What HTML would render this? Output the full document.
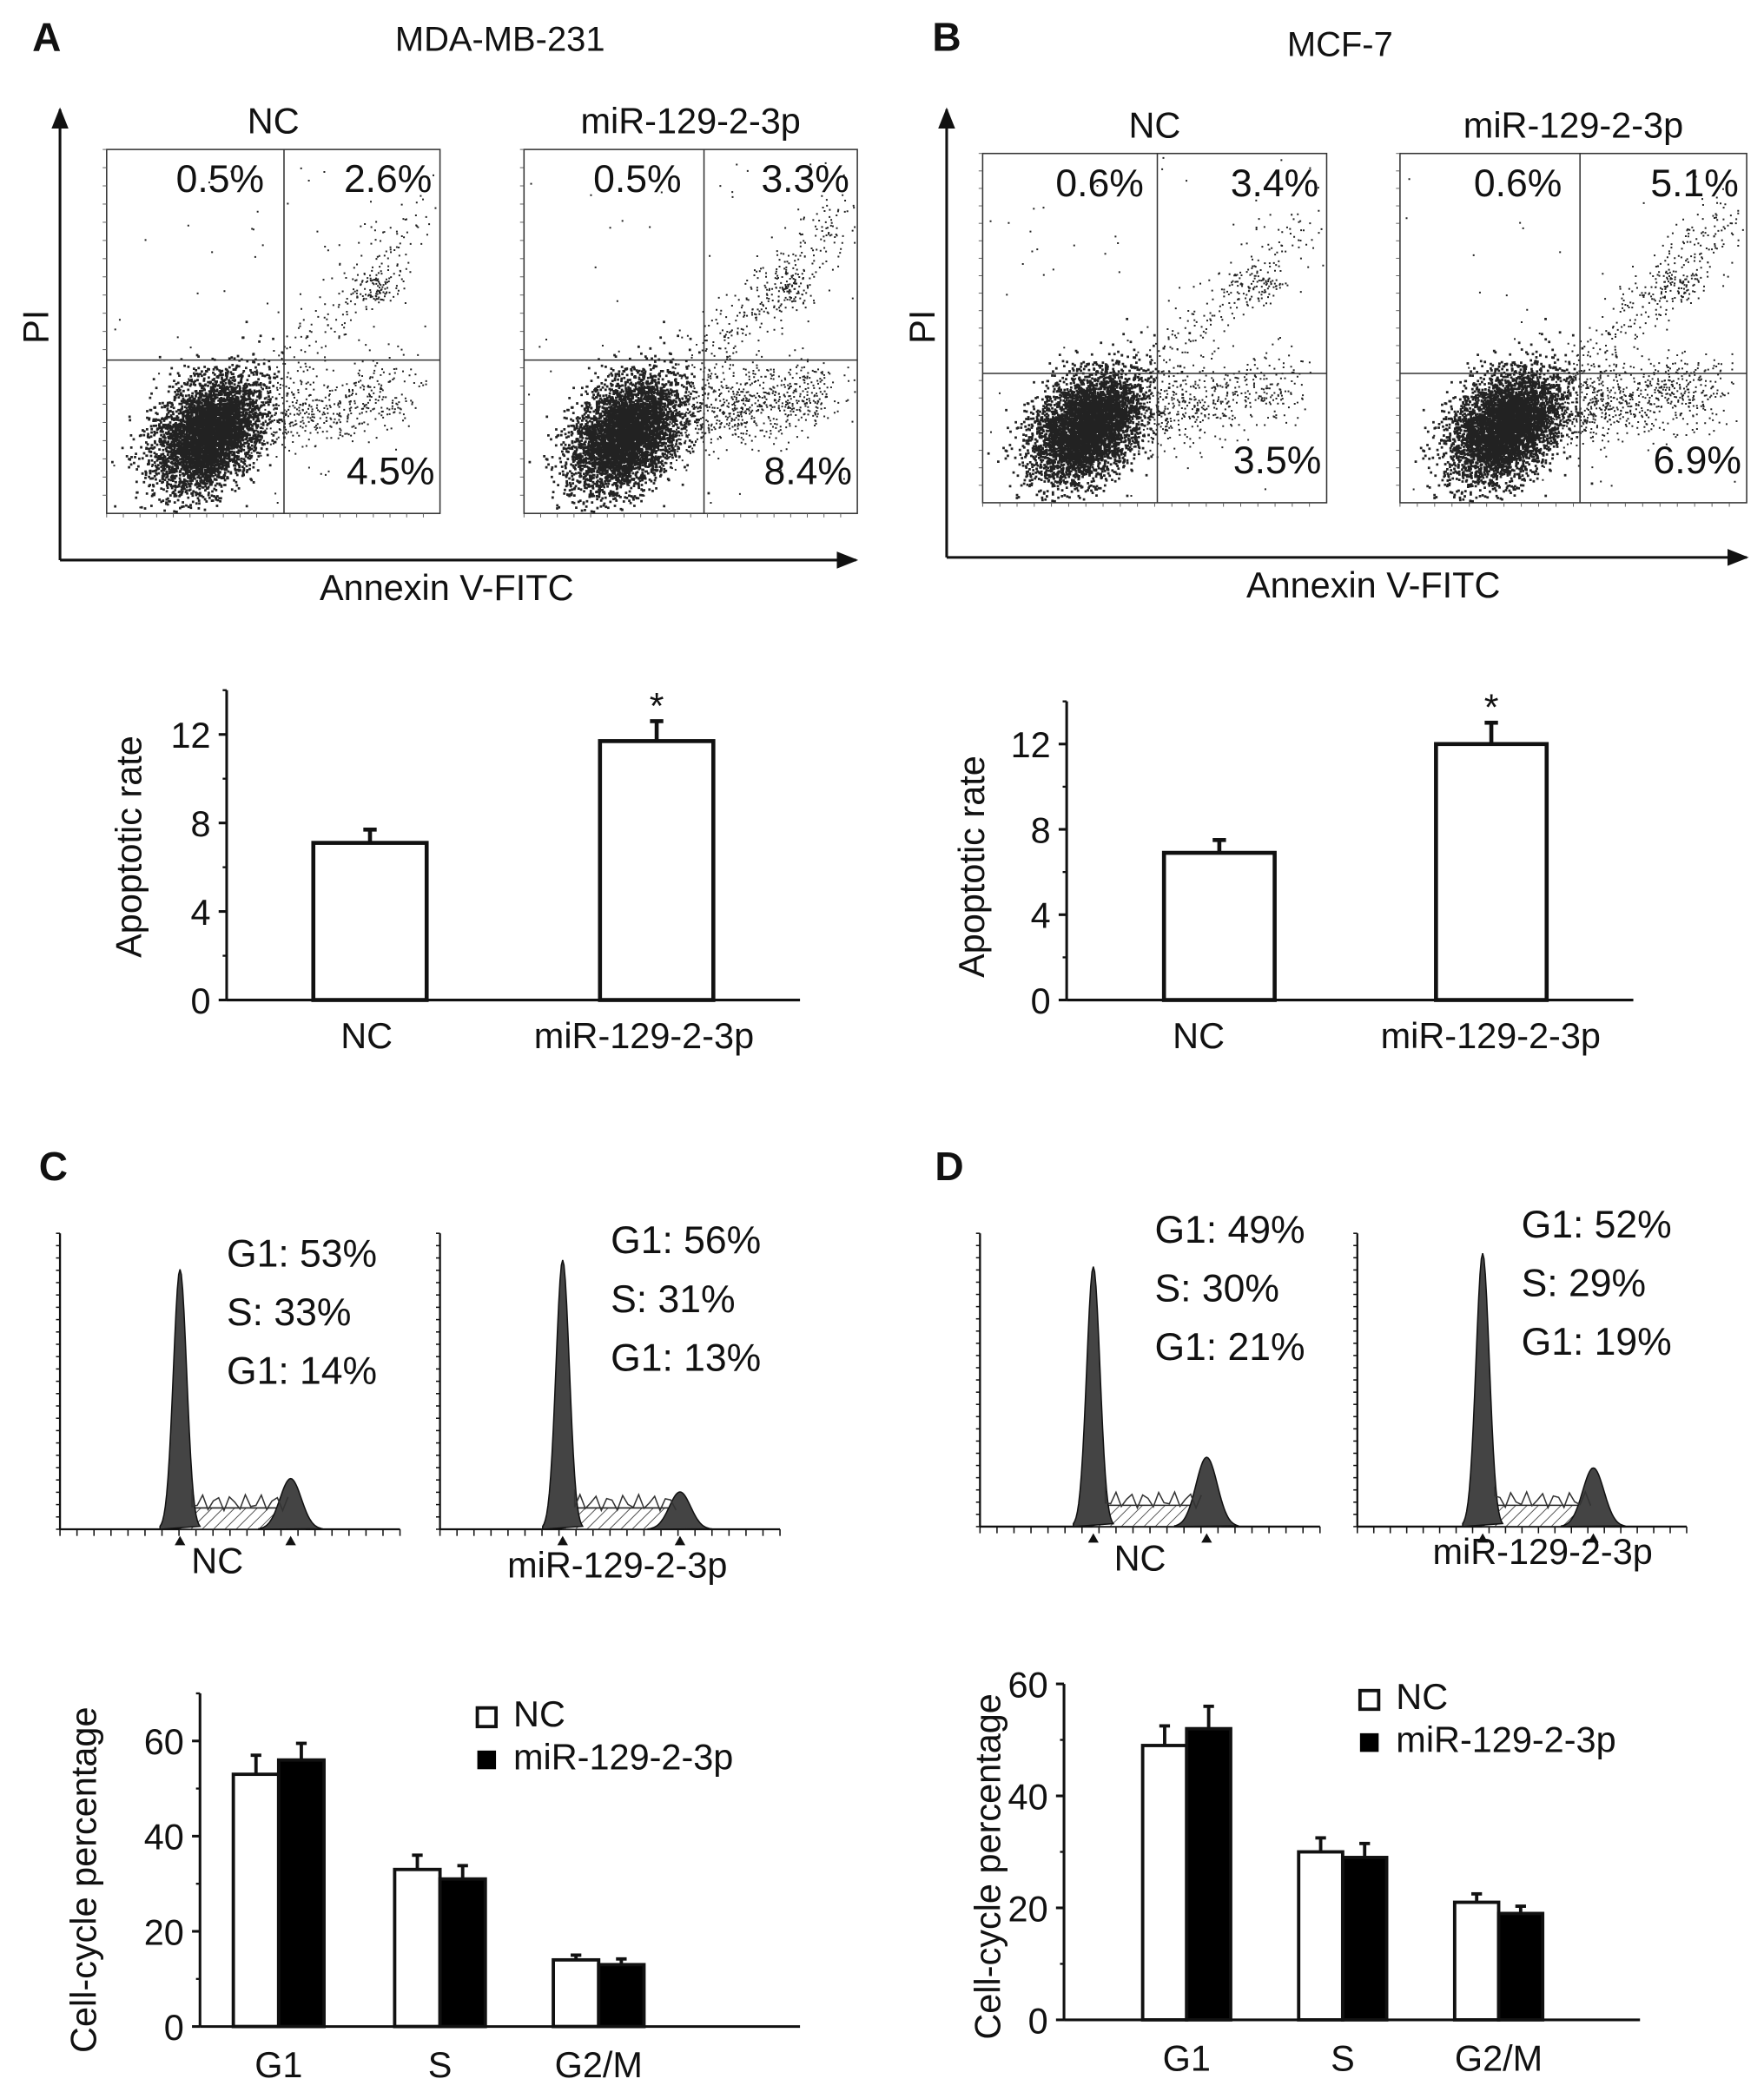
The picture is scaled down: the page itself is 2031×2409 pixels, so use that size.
<!DOCTYPE html>
<html><head><meta charset="utf-8"><style>
html,body{margin:0;padding:0;background:#fff}
svg{display:block}
text{font-family:"Liberation Sans",Arial,sans-serif;fill:#111}
</style></head><body>
<svg id="fig" xmlns="http://www.w3.org/2000/svg" width="2031" height="2409" viewBox="0 0 1323 1569">
<defs>
<marker id="arr" viewBox="0 0 10 10" refX="9" refY="5" markerWidth="8" markerHeight="8" orient="auto"><path d="M0,1 L10,5 L0,9 Z" fill="#111"/></marker>
<pattern id="hatch" width="6" height="6" patternUnits="userSpaceOnUse" patternTransform="rotate(45)"><rect width="6" height="6" fill="#fff"/><line x1="0" y1="0" x2="0" y2="6" stroke="#222" stroke-width="1"/></pattern>
</defs>
<g id="root"></g>
</svg>
<script>
// ---- data ----
const apopCategories = ["NC","miR-129-2-3p"];
const apopA = [7.1, 11.7];
const apopAErr = [0.6, 0.9];
const apopB = [6.9, 12.0];
const apopBErr = [0.6, 1.0];
const apopTicks = [0,4,8,12];
const phases = ["G1","S","G2/M"];
const cycA_NC = [53,33,14];
const cycA_miR = [56,31,13];
const cycA_NCErr = [4,3,1];
const cycA_miRErr = [3.5,2.8,1.2];
const cycB_NC = [49,30,21];
const cycB_miR = [52,29,19];
const cycB_NCErr = [3.5,2.5,1.5];
const cycB_miRErr = [4,2.5,1.3];
const cycTicks = [0,20,40,60];
const quadA_NC = ["0.5%","2.6%","4.5%"];
const quadA_miR = ["0.5%","3.3%","8.4%"];
const quadB_NC = ["0.6%","3.4%","3.5%"];
const quadB_miR = ["0.6%","5.1%","6.9%"];

const NS="http://www.w3.org/2000/svg";
const root=document.getElementById('root');
function el(tag,attrs,parent,txt){const e=document.createElementNS(NS,tag);for(const k in attrs)e.setAttribute(k,attrs[k]);if(txt!==undefined)e.textContent=txt;(parent||root).appendChild(e);return e;}
function T(x,y,s,size,name,anchor,extra){const t=el('text',Object.assign({x:x,y:y,'font-size':size,'text-anchor':anchor||'middle'},extra||{}),null,s);return t;}

T(35,38,"A",30,'panel-label-a','middle',{'font-weight':'bold'});
T(375,38,"MDA-MB-231",26,'title-mda');
T(710,38,"B",30,'panel-label-b','middle',{'font-weight':'bold'});
T(1005,42,"MCF-7",26,'title-mcf7');
T(40,885,"C",30,'panel-label-c','middle',{'font-weight':'bold'});
T(712,885,"D",30,'panel-label-d','middle',{'font-weight':'bold'});

function bigAxes(x0,yTop,yBot,xEnd,piY,annX,annY,id){
  let l=el('line',{x1:x0,y1:yBot,x2:x0,y2:yTop,stroke:'#111','stroke-width':2,'marker-end':'url(#arr)'});
  
  l=el('line',{x1:x0,y1:yBot,x2:xEnd,y2:yBot,stroke:'#111','stroke-width':2,'marker-end':'url(#arr)'});
  
  T(x0-18,piY,"PI",27,'pi-label-'+id,'middle',{transform:`rotate(-90 ${x0-18} ${piY})`,dy:9});
  T(annX,annY,"Annexin V-FITC",27,'annexin-label-'+id);
}
bigAxes(45,82,420,642,245,335,450,'a');
bigAxes(710,82,418,1310,245,1030,448,'b');

let seed=12345;function rnd(){seed=(seed*1103515245+12345)%2147483648;return seed/2147483648;}
function gauss(){return Math.sqrt(-2*Math.log(rnd()+1e-9))*Math.cos(2*Math.PI*rnd());}
function scatter(x0,y0,x1,y1,qx,qy,labels,title,id,spread){
  const g=el('g',{});
  el('rect',{x:x0,y:y0,width:x1-x0,height:y1-y0,fill:'none',stroke:'#333','stroke-width':1},g);
  for(let i=0;i<20;i++){el('line',{x1:x0+(x1-x0)*i/20,y1:y1,x2:x0+(x1-x0)*i/20,y2:y1+3,stroke:'#555','stroke-width':0.6},g);el('line',{x1:x0,y1:y0+(y1-y0)*i/20,x2:x0-3,y2:y0+(y1-y0)*i/20,stroke:'#555','stroke-width':0.6},g);}
  let d='';const W=x1-x0,H=y1-y0;
  const cx=x0+W*0.3,cy=y0+H*0.78;
  function pt(x,y,s){s=s||1.3;if(x>x0+2&&x<x1-2&&y>y0+2&&y<y1-2)d+=`M${x.toFixed(1)} ${y.toFixed(1)}h${s}v${s}h-${s}z`;}
  for(let i=0;i<4500;i++){const a=gauss(),b=gauss();pt(cx+a*W*0.075+b*W*0.025,cy-a*H*0.05+b*H*0.06,1.8);}
  for(let i=0;i<Math.round(600*spread);i++){const t=rnd();pt(cx+t*W*0.6+gauss()*W*0.05,cy-t*H*0.12+gauss()*H*0.05);}
  for(let i=0;i<Math.round(200*spread);i++){const t=rnd();pt(cx+W*0.2+t*W*0.45+gauss()*W*0.04,cy-H*0.15-t*H*0.45+gauss()*H*0.05);}
  for(let i=0;i<80;i++){pt(x0+W*0.8+gauss()*W*0.035,y0+H*0.38+gauss()*H*0.025);}
  for(let i=0;i<50;i++){pt(x0+rnd()*W,y0+rnd()*H);}
  el('path',{d:d,fill:'#222'},g);
  el('line',{x1:qx,y1:y0,x2:qx,y2:y1,stroke:'#333','stroke-width':1},g);
  el('line',{x1:x0,y1:qy,x2:x1,y2:qy,stroke:'#333','stroke-width':1},g);
  T((x0+x1)/2,y0-12,title,27,'scatter-title-'+id);
  T(x0+W*0.34,y0+32,labels[0],29,'quad-ul-'+id);
  T(x1-6,y0+32,labels[1],29,'quad-ur-'+id,'end');
  T(x1-4,y1-22,labels[2],29,'quad-lr-'+id,'end');
}
scatter(80,112,330,385,213,270,quadA_NC,"NC",'a-nc',1);
scatter(393,112,643,385,528,270,quadA_miR,"miR-129-2-3p",'a-mir',1.6);
scatter(737,115,995,377,868,280,quadB_NC,"NC",'b-nc',1);
scatter(1050,115,1310,377,1185,280,quadB_miR,"miR-129-2-3p",'b-mir',1.5);

function apopChart(ax,y0px,pxPer,xEnd,vals,errs,barX,barW,labX,titleX,titleY,id){
  const y=v=>y0px-v*pxPer;
  const g=el('g',{});
  el('line',{x1:ax,y1:y(14),x2:ax,y2:y(0),stroke:'#111','stroke-width':2},g);
  el('line',{x1:ax,y1:y(0),x2:xEnd,y2:y(0),stroke:'#111','stroke-width':2},g);
  apopTicks.forEach(t=>{el('line',{x1:ax-6,y1:y(t),x2:ax,y2:y(t),stroke:'#111','stroke-width':2},g);T(ax-12,y(t)+10,String(t),27,'y-tick-'+id,'end');});
  [2,6,10,14].forEach(t=>el('line',{x1:ax-3,y1:y(t),x2:ax,y2:y(t),stroke:'#111','stroke-width':1.5},g));
  vals.forEach((v,i)=>{
    const r=el('rect',{x:barX[i],y:y(v),width:barW,height:y(0)-y(v),fill:'#fff',stroke:'#111','stroke-width':3},g);
    
    const cx=barX[i]+barW/2;
    el('line',{x1:cx,y1:y(v),x2:cx,y2:y(v+errs[i]),stroke:'#111','stroke-width':3},g);
    el('line',{x1:cx-5,y1:y(v+errs[i]),x2:cx+5,y2:y(v+errs[i]),stroke:'#111','stroke-width':3},g);
    T(labX[i],y(0)+36,apopCategories[i],27,'x-label-'+id);
  });
  const sv=vals[1]+errs[1];
  T(barX[1]+barW/2,y(sv)-2,"*",28,'significance-star-'+id);
  T(titleX,titleY,"Apoptotic rate",27,'y-title-'+id,'middle',{transform:`rotate(-90 ${titleX} ${titleY})`});
}
apopChart(170,750,16.6,600,apopA,apopAErr,[235,450],85,[275,483],106,635,'a');
apopChart(800,750,16.0,1225,apopB,apopBErr,[873,1077],83,[899,1118],738,650,'b');

function hist(ax,yTop,yBot,xEnd,p1,h1,p2,h2,texts,tx,ty,label,labX,labY,id){
  const g=el('g',{});
  el('line',{x1:ax,y1:yTop,x2:ax,y2:yBot,stroke:'#111','stroke-width':1.5},g);
  el('line',{x1:ax,y1:yBot,x2:xEnd,y2:yBot,stroke:'#111','stroke-width':1.5},g);
  for(let i=0;i<=20;i++){const x=ax+(xEnd-ax)*i/20;el('line',{x1:x,y1:yBot,x2:x,y2:yBot+5,stroke:'#111','stroke-width':1},g);}
  for(let i=0;i<=24;i++){const yy=yBot-(yBot-yTop)*i/24;el('line',{x1:ax,y1:yy,x2:ax-3,y2:yy,stroke:'#111','stroke-width':1},g);}
  const sH=16;
  el('path',{d:`M${p1} ${yBot} L${p1+8} ${yBot-sH} L${p2-8} ${yBot-sH} L${p2+10} ${yBot} Z`,fill:'url(#hatch)',stroke:'#222','stroke-width':1},g);
  function peak(p,h,w){let d=`M${p-3*w} ${yBot}`;for(let x=-3*w;x<=3*w;x+=1)d+=` L${p+x} ${(yBot-h*Math.exp(-x*x/(2*w*w))).toFixed(1)}`;return d+' Z';}
  el('path',{d:peak(p1,h1,5),fill:'#444',stroke:'#111','stroke-width':1},g);
  el('path',{d:peak(p2,h2,8),fill:'#444',stroke:'#111','stroke-width':1},g);
  let d=`M${p1+9} ${yBot-30}`;for(let x=p1+9;x<p2;x+=4)d+=` L${x} ${(yBot-sH-4-6*Math.sin(x)).toFixed(1)}`;
  el('path',{d:d,fill:'none',stroke:'#333','stroke-width':1},g);
  el('path',{d:`M${p1-4} ${yBot+12} l4 -7 l4 7 z M${p2-4} ${yBot+12} l4 -7 l4 7 z`,fill:'#111'},g);
  texts.forEach((s,i)=>T(tx,ty+i*44,s,29,'phase-text-'+id,'start'));
  T(labX,labY,label,27,'histogram-label-'+id);
}
hist(45,925,1147,300,135,195,218,38,["G1: 53%","S: 33%","G1: 14%"],170,950,"NC",163,1180,'c-nc');
hist(330,925,1147,585,422,202,510,28,["G1: 56%","S: 31%","G1: 13%"],458,940,"miR-129-2-3p",463,1183,'c-mir');
hist(735,925,1145,990,820,195,905,52,["G1: 49%","S: 30%","G1: 21%"],866,932,"NC",855,1178,'d-nc');
hist(1018,925,1145,1265,1112,205,1195,44,["G1: 52%","S: 29%","G1: 19%"],1141,928,"miR-129-2-3p",1157,1173,'d-mir');

function cycChart(ax,y0px,pxPer,topV,xEnd,nc,mir,ncE,mirE,gx,bw,titleX,titleY,legX,legY,id){
  const y=v=>y0px-v*pxPer;
  const g=el('g',{});
  el('line',{x1:ax,y1:y(topV),x2:ax,y2:y(0),stroke:'#111','stroke-width':2},g);
  el('line',{x1:ax,y1:y(0),x2:xEnd,y2:y(0),stroke:'#111','stroke-width':2},g);
  cycTicks.forEach(t=>{el('line',{x1:ax-6,y1:y(t),x2:ax,y2:y(t),stroke:'#111','stroke-width':2},g);T(ax-12,y(t)+10,String(t),27,'y-tick-'+id,'end');});
  [10,30,50,70].filter(t=>t<=topV).forEach(t=>el('line',{x1:ax-3,y1:y(t),x2:ax,y2:y(t),stroke:'#111','stroke-width':1.5},g));
  phases.forEach((p,i)=>{
    [[nc,ncE,'#fff',0,'nc'],[mir,mirE,'#000',bw,'mir']].forEach(([vals,errs,fill,off,s])=>{
      const x=gx[i]-bw+off,v=vals[i];
      const r=el('rect',{x:x,y:y(v),width:bw,height:y(0)-y(v),fill:fill,stroke:'#111','stroke-width':2.5},g);
      
      const cx=x+bw/2;
      el('line',{x1:cx,y1:y(v),x2:cx,y2:y(v+errs[i]),stroke:'#111','stroke-width':2.5},g);
      el('line',{x1:cx-4,y1:y(v+errs[i]),x2:cx+4,y2:y(v+errs[i]),stroke:'#111','stroke-width':2.5},g);
    });
    T(gx[i],y(0)+38,p,27,'x-label-'+id);
  });
  T(titleX,titleY,"Cell-cycle percentage",27,'y-title-'+id,'middle',{transform:`rotate(-90 ${titleX} ${titleY})`});
  let r=el('rect',{x:legX,y:legY-14,width:14,height:14,fill:'#fff',stroke:'#111','stroke-width':2.5},g);
  
  T(legX+27,legY,"NC",27,'legend-nc-'+id,'start');
  r=el('rect',{x:legX,y:legY+18,width:14,height:14,fill:'#000'},g);
  
  T(legX+27,legY+32,"miR-129-2-3p",27,'legend-mir-'+id,'start');
}
cycChart(150,1520,3.57,70,600,cycA_NC,cycA_miR,cycA_NCErr,cycA_miRErr,[209,330,449],34,72,1410,358,1295,'c');
cycChart(798,1515,4.2,60,1230,cycB_NC,cycB_miR,cycB_NCErr,cycB_miRErr,[890,1007,1124],33,750,1400,1020,1282,'d');
</script>
</body></html>
